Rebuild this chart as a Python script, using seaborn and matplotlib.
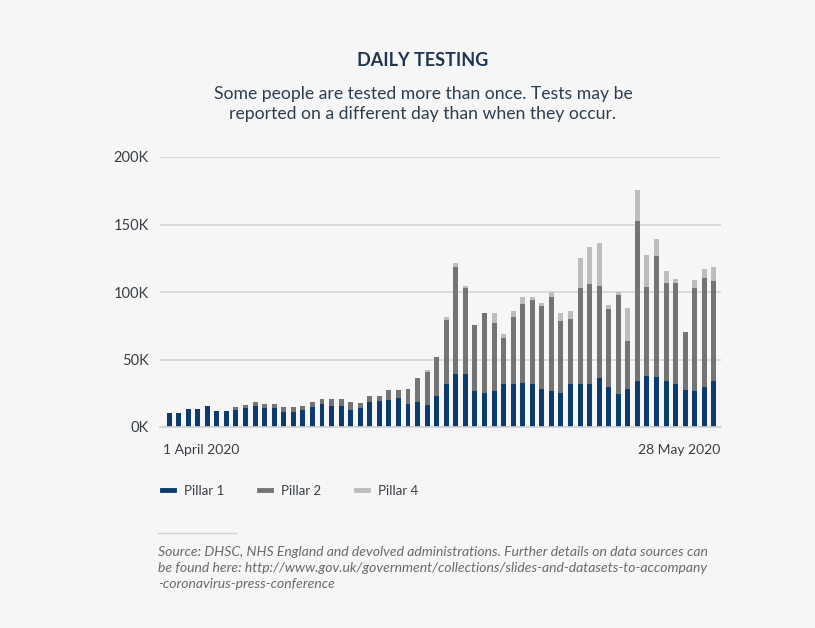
import seaborn as sns
import matplotlib.pyplot as plt
from matplotlib.lines import Line2D
import pandas as pd
import numpy as np

# Daily tests, in thousands, 1 April -> 28 May 2020 (58 days)
pillar1 = [10.5, 10.5, 13.0, 13.7, 15.9, 12.2, 12.2, 12.4, 13.9, 15.9,
           14.1, 13.9, 11.0, 11.0, 12.9, 14.9, 17.1, 15.9, 15.9, 12.9,
           13.9, 18.5, 19.0, 19.8, 21.2, 17.1, 18.5, 16.3, 23.2, 31.5,
           39.0, 39.0, 27.0, 25.1, 26.3, 32.0, 32.0, 32.9, 32.0, 28.0,
           26.3, 25.1, 32.0, 31.5, 31.5, 36.6, 30.0, 24.4, 28.5, 34.4,
           37.8, 36.8, 34.4, 32.0, 27.6, 26.3, 30.0, 34.4]
pillar2 = [0, 0, 0, 0, 0, 0, 0, 2.5, 2.7, 2.6,
           3.0, 3.2, 3.6, 3.6, 2.5, 3.6, 3.6, 4.8, 4.8, 5.6,
           3.9, 4.7, 4.2, 7.3, 6.4, 11.4, 17.6, 24.4, 28.3, 47.8,
           79.5, 63.7, 48.6, 59.5, 51.0, 33.9, 49.7, 58.1, 61.9, 61.8,
           70.3, 53.7, 47.8, 71.2, 74.1, 67.5, 57.3, 73.4, 34.9, 118.0,
           65.9, 90.0, 71.9, 74.3, 43.1, 76.4, 80.5, 74.1]
pillar4 = [0, 0, 0, 0, 0, 0, 0, 0, 0, 0,
           0, 0, 0, 0, 0, 0, 0, 0, 0, 0,
           0, 0, 0, 0, 0, 0, 0, 1.7, 0, 1.9,
           3.0, 1.7, 0, 0, 7.1, 3.1, 4.4, 5.6, 2.7, 2.4,
           3.6, 5.6, 6.3, 22.4, 27.4, 32.0, 2.9, 2.4, 25.1, 23.5,
           23.9, 12.2, 9.1, 3.7, 0, 6.1, 6.6, 10.0]
dates = pd.date_range('2020-04-01', '2020-05-28')

df = pd.DataFrame({'day': np.arange(len(dates)),
                   'p1': np.array(pillar1) * 1000,
                   'p2': np.array(pillar2) * 1000,
                   'p4': np.array(pillar4) * 1000})
df['p12'] = df['p1'] + df['p2']
df['total'] = df['p12'] + df['p4']

navy = '#0d3b6b'
grey = '#747474'
light = '#bdbdbd'
bg = '#f6f6f6'
txt = '#3a3f45'

plt.rcParams['font.family'] = ['Lato', 'DejaVu Sans']

fig = plt.figure(figsize=(8.15, 6.28), dpi=100, facecolor=bg)
ax = fig.add_axes([160 / 815, 1 - 427 / 628, 561 / 815, 270 / 628])
ax.set_facecolor(bg)

# stacked bars drawn as overlapping cumulative totals
sns.barplot(data=df, x='day', y='total', color=light, width=0.52, saturation=1, ax=ax)
sns.barplot(data=df, x='day', y='p12', color=grey, width=0.52, saturation=1, ax=ax)
sns.barplot(data=df, x='day', y='p1', color=navy, width=0.52, saturation=1, ax=ax)

ax.set_xlim(-0.95, 57.75)
ax.set_ylim(0, 200000)
ax.set_yticks([0, 50000, 100000, 150000, 200000])
ax.set_yticklabels(['0K', '50K', '100K', '150K', '200K'], fontsize=10.5, color=txt)
ax.yaxis.grid(True, color='#d6d6d6', lw=1.2)
ax.set_axisbelow(True)
ax.tick_params(axis='y', length=0, pad=8)
ax.set_xticks([0, 57])
ax.set_xticklabels(['1 April 2020', '28 May 2020'], fontsize=10, color=txt)
ax.get_xticklabels()[0].set_ha('left')
ax.get_xticklabels()[1].set_ha('right')
ax.tick_params(axis='x', length=0, pad=12)
ax.set_xlabel('')
ax.set_ylabel('')
for s in ['top', 'right', 'left']:
    ax.spines[s].set_visible(False)
ax.spines['bottom'].set_color('#cfcfcf')
ax.spines['bottom'].set_linewidth(1.2)
# shift the two end labels so they sit flush with the axis ends
import matplotlib.transforms as mtransforms
ax.get_xticklabels()[0].set_transform(ax.get_xticklabels()[0].get_transform()
                                      + mtransforms.ScaledTranslation(-6 / 100, 0, fig.dpi_scale_trans))
ax.get_xticklabels()[1].set_transform(ax.get_xticklabels()[1].get_transform()
                                      + mtransforms.ScaledTranslation(6 / 100, 0, fig.dpi_scale_trans))

fig.text(423 / 815, 1 - 61 / 628, 'DAILY TESTING', ha='center', va='center',
         fontsize=13, fontweight='bold', color='#1c3553')
fig.text(423 / 815, 1 - 104 / 628,
         'Some people are tested more than once. Tests may be\nreported on a different day than when they occur.',
         ha='center', va='center', fontsize=12.7, color='#2c3e52', linespacing=1.3)

handles = [Line2D([], [], color=c, lw=3.5) for c in [navy, grey, light]]
fig.legend(handles, ['Pillar 1', 'Pillar 2', 'Pillar 4'], loc='center left',
           bbox_to_anchor=(150 / 815, 1 - 491 / 628), ncol=3, frameon=False,
           handlelength=0.9, handletextpad=0.8, columnspacing=2.6,
           fontsize=9.5, labelcolor=txt)

fig.add_artist(Line2D([158 / 815, 236 / 815], [1 - 533 / 628, 1 - 533 / 628],
                      color='#cfcfcf', lw=1))
fig.text(158 / 815, 1 - 568 / 628,
         'Source: DHSC, NHS England and devolved administrations. Further details on data sources can\n'
         'be found here: http://www.gov.uk/government/collections/slides-and-datasets-to-accompany\n'
         '-coronavirus-press-conference',
         ha='left', va='center', fontsize=10.1, style='italic', color='#6a6a6a', linespacing=1.35)

fig.savefig('out.png', dpi=100, facecolor=bg)
